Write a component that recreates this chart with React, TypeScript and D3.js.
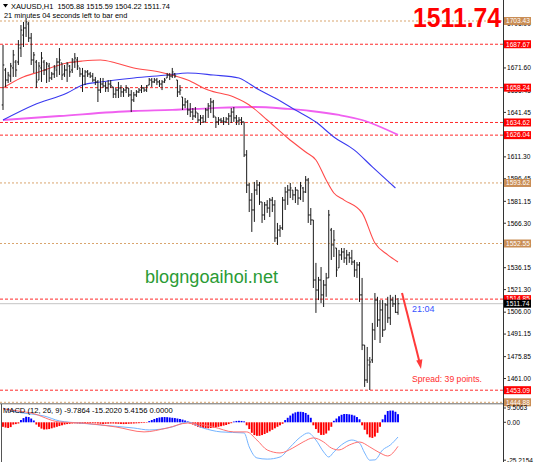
import React from 'react';
import * as d3 from 'd3';

// ---- OHLC bars (XAUUSD H1) ----
const highs = [
  1687.2,1671.6,1668.9,1675.0,1683.8,1677.0,1690.5,1700.7,1702.8,1705.5,
  1702.8,1695.3,1682.4,1677.0,1675.6,1682.4,1677.0,1675.6,1675.0,1668.9,
  1673.6,1678.3,1685.1,1675.0,1673.6,1675.6,1673.6,1678.3,1681.7,1679.0,
  1671.6,1671.6,1670.2,1670.2,1668.9,1668.2,1665.5,1663.4,1664.8,1664.8,
  1662.1,1663.4,1663.4,1658.7,1658.0,1662.1,1660.0,1658.0,1660.0,1658.0,
  1656.6,1655.3,1656.6,1658.0,1660.0,1658.7,1660.0,1664.8,1664.8,1664.8,
  1664.8,1663.4,1663.4,1664.8,1668.2,1668.2,1671.6,1668.2,1663.4,1660.0,
  1651.9,1651.2,1649.9,1647.8,1644.4,1645.1,1641.0,1639.7,1639.7,1644.4,
  1647.8,1651.2,1649.9,1638.3,1638.3,1637.7,1638.3,1638.3,1641.0,1644.4,
  1645.1,1639.7,1638.3,1638.3,1635.0,1615.9,1593.6,1586.8,1594.3,1595.6,
  1594.3,1580.7,1580.7,1582.0,1583.4,1584.1,1582.0,1566.5,1565.1,1584.1,
  1590.9,1592.2,1593.6,1588.8,1590.9,1588.8,1594.3,1590.9,1598.3,1597.0,
  1576.6,1568.5,1539.4,1529.9,1536.6,1527.8,1532.6,1575.3,1563.1,1561.7,
  1549.5,1548.2,1549.5,1549.5,1548.2,1546.8,1548.2,1541.4,1540.0,1540.0,
  1529.2,1483.7,1482.4,1475.6,1498.7,1519.0,1516.4,1514.2,1514.2,1512.2,
  1516.4,1517.7,1516.4,1517.7,1515.59,
];
const lows = [
  1643.1,1658.7,1661.4,1662.1,1665.5,1665.5,1673.6,1679.0,1685.8,1692.6,
  1689.2,1673.6,1668.2,1658.0,1663.4,1662.1,1666.8,1661.4,1662.1,1663.4,
  1664.8,1665.5,1666.8,1663.4,1665.5,1662.1,1665.5,1668.2,1671.6,1670.2,
  1665.5,1655.3,1660.0,1665.5,1664.8,1662.1,1660.0,1648.5,1654.6,1658.0,
  1655.3,1655.3,1658.0,1651.2,1651.2,1651.2,1651.9,1651.9,1654.6,1651.9,
  1641.7,1648.5,1651.9,1654.6,1654.6,1655.3,1655.3,1660.0,1658.7,1661.4,
  1660.0,1658.7,1656.6,1661.4,1664.8,1663.4,1664.8,1664.8,1651.9,1653.3,
  1643.1,1644.4,1639.7,1638.3,1636.3,1637.7,1634.3,1632.9,1634.3,1635.0,
  1637.7,1641.0,1637.7,1630.9,1632.9,1634.3,1632.9,1634.3,1632.9,1634.3,
  1635.0,1632.9,1632.9,1632.9,1611.2,1586.8,1573.9,1560.4,1567.2,1585.5,
  1578.7,1566.5,1568.5,1573.3,1570.5,1573.9,1553.6,1551.6,1557.0,1561.7,
  1575.3,1578.7,1583.4,1582.0,1580.0,1578.7,1582.0,1580.7,1586.8,1566.5,
  1565.1,1522.4,1505.5,1514.2,1512.2,1509.5,1516.4,1529.2,1541.4,1543.4,
  1529.9,1536.0,1541.4,1539.4,1538.0,1539.4,1538.0,1529.9,1529.2,1512.9,
  1480.3,1455.3,1458.0,1453.2,1471.6,1487.1,1496.0,1485.1,1489.2,1494.0,
  1498.7,1497.3,1509.5,1505.5,1504.22,
];
const opens = [
  1646.5,1670.2,1663.4,1666.1,1671.6,1675.6,1675.6,1685.1,1693.9,1698.7,
  1701.4,1691.9,1677.0,1675.6,1663.4,1671.6,1675.6,1670.2,1672.9,1664.8,
  1667.5,1670.2,1675.6,1675.0,1667.5,1670.2,1672.9,1670.2,1675.6,1677.0,
  1671.6,1667.5,1666.1,1668.9,1667.5,1666.1,1663.4,1662.1,1656.6,1660.7,
  1659.4,1658.0,1660.7,1658.7,1653.9,1656.6,1658.0,1655.3,1656.6,1658.0,
  1653.3,1649.9,1653.3,1655.3,1656.6,1658.0,1656.6,1660.0,1663.4,1662.1,
  1663.4,1662.1,1660.7,1662.1,1664.8,1666.8,1666.1,1667.5,1663.4,1655.3,
  1651.9,1646.5,1648.5,1643.1,1641.7,1639.0,1641.0,1636.3,1637.7,1635.0,
  1643.1,1645.8,1648.5,1638.3,1635.0,1636.3,1635.6,1635.0,1637.0,1639.0,
  1641.7,1637.7,1635.6,1636.3,1635.0,1612.6,1592.2,1582.0,1575.3,1588.8,
  1592.2,1580.7,1571.9,1578.7,1576.6,1582.0,1578.7,1556.3,1561.7,1563.1,
  1582.0,1587.5,1588.8,1588.8,1585.5,1588.8,1583.4,1590.2,1587.5,1595.6,
  1571.9,1568.5,1527.8,1521.0,1527.8,1517.7,1524.4,1529.2,1561.7,1551.6,
  1549.5,1536.0,1544.8,1546.8,1542.7,1544.8,1542.7,1540.0,1534.6,1538.0,
  1517.7,1483.7,1460.0,1470.2,1473.6,1493.9,1514.2,1500.7,1507.5,1493.9,
  1510.9,1502.1,1514.2,1511.6,1505.88,
];
const closes = [
  1673.6,1663.4,1666.8,1672.9,1680.4,1670.2,1687.2,1697.3,1698.7,1702.8,
  1691.9,1677.0,1680.4,1662.1,1672.9,1678.3,1670.2,1674.3,1664.8,1667.5,
  1671.6,1675.6,1677.0,1666.8,1670.2,1674.3,1668.9,1677.0,1678.3,1672.9,
  1667.5,1666.1,1668.9,1667.5,1666.1,1663.4,1662.1,1656.6,1660.7,1659.4,
  1658.0,1660.7,1659.4,1653.9,1656.6,1658.0,1655.3,1656.6,1658.0,1653.3,
  1649.9,1653.3,1655.3,1656.6,1658.0,1656.6,1659.4,1663.4,1662.1,1663.4,
  1662.1,1660.7,1662.1,1663.4,1666.8,1666.1,1668.9,1666.1,1655.3,1656.6,
  1646.5,1648.5,1643.1,1641.7,1639.0,1641.7,1636.3,1637.7,1635.0,1643.1,
  1645.8,1648.5,1639.0,1635.0,1636.3,1635.6,1635.0,1637.0,1639.0,1641.7,
  1637.7,1635.6,1636.3,1635.0,1612.6,1592.2,1582.0,1575.3,1588.8,1592.2,
  1580.7,1571.9,1578.7,1576.6,1582.0,1578.7,1556.3,1561.7,1563.1,1582.0,
  1587.5,1588.8,1590.2,1585.5,1588.8,1583.4,1591.6,1587.5,1595.6,1571.9,
  1568.5,1527.8,1521.0,1527.8,1517.7,1524.4,1529.2,1571.9,1551.6,1554.9,
  1534.6,1544.8,1546.8,1542.7,1544.8,1542.7,1540.0,1534.6,1538.0,1517.7,
  1483.7,1460.0,1473.5,1472.2,1494.0,1514.2,1500.7,1507.5,1493.9,1510.9,
  1502.1,1514.2,1511.6,1505.9,1511.74,
];

// ---- Moving averages (bar index, price) ----
const redMaIdx = [0,7,14,25,31,38,44,51,61,72,80,90,96,98,103,111,118,122,126,129,133,140,145,150,154];
const redMaVal = [1658.0,1664.8,1668.9,1675.0,1676.3,1677.0,1675.0,1671.6,1668.9,1663.4,1656.6,1651.9,1646.5,1643.8,1636.3,1624.1,1614.6,1609.2,1595.6,1586.8,1582.0,1573.3,1552.9,1544.8,1540.0];
const blueMaIdx = [0,12,25,31,38,51,64,72,82,92,95,98,106,114,122,129,137,144,153];
const blueMaVal = [1636.3,1646.5,1654.6,1660.0,1662.1,1664.8,1666.8,1668.2,1666.8,1664.8,1662.1,1658.7,1651.2,1643.1,1634.9,1624.8,1615.9,1604.5,1590.2];
const pinkMaIdx = [0,22,51,66,82,98,111,120,131,140,154];
const pinkMaVal = [1636.3,1639.0,1642.4,1643.1,1644.4,1645.1,1643.8,1642.4,1639.7,1636.3,1626.2];

// ---- Horizontal levels ----
const levelPrices = [1703.43,1687.67,1658.24,1634.62,1626.04,1593.62,1552.55,1514.85,1453.09,1444.88];
const levelKinds = ['tan','red','red','red','red','tan','tan','red','red','tan'];
const priceTicks = [1701.90,1686.75,1671.60,1656.45,1641.45,1611.30,1596.45,1581.15,1566.30,1551.45,1536.15,1521.30,1506.00,1491.15,1475.85,1461.00];
const bidPrice = 1511.74;

// ---- MACD (12,26,9) ----
const macdHist = [
  -3.0,-3.5,-3.8,-3.2,
  -1.5,-1.2,-0.8,
  1.5,2.8,3.7,3.5,2.5,1.2,
  -1.5,-3.0,-4.2,-4.8,-4.7,-4.5,-4.0,-3.5,-3.0,
  -2.5,-2.0,-1.5,-1.2,-1.0,
  -0.8,-0.7,-0.8,-0.9,-1.0,-0.9,-0.8,-0.7,-0.6,-0.7,-0.8,-1.0,-1.1,-1.0,-0.9,-0.8,-0.8,-0.9,-1.0,-1.1,-1.2,-1.1,-1.0,-0.9,-0.8,-0.7,-0.6,-0.5,-0.4,-0.3,
  0.8,1.5,2.2,2.8,3.2,3.4,3.5,3.4,3.2,3.0,2.8,2.5,2.2,1.8,1.2,0.6,
  -0.8,-1.5,-2.2,-3.0,-3.5,-3.8,-4.0,-4.0,-3.8,-3.5,-3.2,-3.0,-2.6,-2.2,-1.8,-1.2,-0.6,
  0.5,0.9,1.0,0.9,0.6,
  -2.0,-4.5,-7.0,-8.5,-9.0,-9.0,-8.5,-7.8,-7.0,-6.0,-5.0,-4.0,-3.0,-2.0,-1.0,
  1.5,3.0,4.5,5.8,6.6,7.0,7.0,6.8,6.2,5.0,3.0,
  -2.0,-4.5,-7.0,-8.4,-8.4,-7.5,-5.5,-3.0,
  1.0,2.5,4.0,5.0,5.5,5.5,5.3,5.0,4.5,3.5,2.0,
  -2.0,-5.0,-8.0,-10.0,-10.4,-9.5,-7.0,-3.0,
  2.0,5.0,7.5,7.8,7.8,7.0,5.4,
];
const macdMainIdx = [0,5,11,16,22,30,38,51,57,66,72,78,85,94,96,99,103,108,112,116,119,122,125,127,129,133,136,139,141,143,145,148,151,154];
const macdMainVal = [9.5,6.9,5.5,4.2,0.9,-0.5,-1.8,-3.8,-5.1,-3.1,0.2,-3.8,-6.4,-7.1,-16.4,-23.7,-24.5,-23.1,-16.4,-9.8,-7.1,-11.8,-19.7,-23.1,-19.7,-13.8,-11.8,-13.8,-20.4,-25.2,-25.0,-18.4,-15.1,-9.79];
const macdSigIdx = [0,3,11,22,31,44,55,64,72,82,90,95,99,103,108,113,117,121,125,128,131,135,139,143,147,150,154];
const macdSigVal = [9.0,8.2,6.2,0.2,-0.5,-3.1,-6.4,-3.8,-0.5,-3.1,-6.4,-6.4,-11.8,-18.4,-20.4,-17.1,-13.1,-10.4,-13.1,-17.1,-18.4,-15.1,-13.1,-16.4,-20.4,-22.4,-16.0];
const macdTicks = [9.5063, 0, -25.2154];
const macdTickLabels = ['9.5063', '0.00', '-25.2154'];
const macdLegend = 'MACD (12, 26, 9) -9.7864 -15.2020 5.4156 0.0000';

const W = 534, H = 462;
const AXIS_X = 503;
const FONT = "'Liberation Sans', Arial, sans-serif";

export default function App() {
  const n = highs.length;
  const x = d3.scaleLinear().domain([0, n - 1]).range([3, 398]);
  const y = d3.scaleLinear().domain([1444.88, 1703.43]).range([402.3, 21]);
  const my = d3.scaleLinear().domain([-25.2154, 9.5063]).range([460.2, 408]);

  const maLine = (idx: number[]) =>
    d3.line<number>().x((_, i) => x(idx[i])).y((d) => y(d)).curve(d3.curveMonotoneX);
  const macdLine = (idx: number[]) =>
    d3.line<number>().x((_, i) => x(idx[i])).y((d) => my(d)).curve(d3.curveMonotoneX);

  const red = '#ff2a2a';
  const tan = '#d9a56e';

  return (
    <svg width={W} height={H} style={{ position: 'absolute', left: 0, top: 0, display: 'block', background: '#fff' }}
      fontFamily={FONT}>
      <defs>
        <clipPath id="mainClip"><rect x={0} y={0} width={AXIS_X} height={403} /></clipPath>
        <clipPath id="macdClip"><rect x={0} y={405} width={AXIS_X} height={57} /></clipPath>
      </defs>
      <rect x={0} y={0} width={W} height={H} fill="#fff" />

      {/* header */}
      <polygon points="3,4 8,4 5.5,7.5" fill="#000" />
      <text x={11} y={8.8} fontSize={7.4} fill="#000" style={{ whiteSpace: 'pre' }}>XAUUSD,H1  1505.88 1515.59 1504.22 1511.74</text>
      <text x={4} y={17.8} fontSize={7.4} fill="#000">21 minutes 04 seconds left to bar end</text>

      <g clipPath="url(#mainClip)">
        {/* horizontal levels */}
        {levelPrices.map((p, i) => (
          <line key={'lv' + i} x1={0} x2={AXIS_X} y1={y(p)} y2={y(p)}
            stroke={levelKinds[i] === 'red' ? red : tan}
            strokeWidth={1} strokeDasharray={levelKinds[i] === 'red' ? '3,2' : '2,2'} />
        ))}
        {/* bid line */}
        <line x1={0} x2={AXIS_X} y1={y(bidPrice)} y2={y(bidPrice)} stroke="#c4c4c4" strokeWidth={1} />

        {/* moving averages */}
        <path d={maLine(pinkMaIdx)(pinkMaVal) || ''} fill="none" stroke="#f060f0" strokeWidth={1.8} />
        <path d={maLine(blueMaIdx)(blueMaVal) || ''} fill="none" stroke="#3a3af0" strokeWidth={1.1} />
        <path d={maLine(redMaIdx)(redMaVal) || ''} fill="none" stroke="#ff4a4a" strokeWidth={1.1} />

        {/* bars */}
        {highs.map((h, i) => {
          const cx = x(i);
          return (
            <g key={'b' + i} stroke="#1a1a1a" strokeWidth={1}>
              <line x1={cx} x2={cx} y1={y(h)} y2={y(lows[i])} />
              <line x1={cx - 1.3} x2={cx} y1={y(opens[i])} y2={y(opens[i])} />
              <line x1={cx} x2={cx + 1.3} y1={y(closes[i])} y2={y(closes[i])} />
            </g>
          );
        })}

        {/* watermark */}
        <text x={145} y={283} fontSize={18} fill="#2b9b35" textLength={133} lengthAdjust="spacingAndGlyphs">blogngoaihoi.net</text>

        {/* annotations */}
        <text x={412} y={312} fontSize={9} fill="#3552ff">21:04</text>
        <line x1={402} y1={293} x2={419.5} y2={362} stroke="#ff3a3a" strokeWidth={2} />
        <polygon points="421,369 416.2,360.6 422.4,359.2" fill="#ff3a3a" />
        <text x={412} y={381.5} fontSize={9} fill="#ff2e2e" textLength={70} lengthAdjust="spacingAndGlyphs">Spread: 39 points.</text>
      </g>

      {/* big price */}
      <text x={413} y={27} fontSize={27} fontWeight="bold" fill="#ff0000" textLength={88} lengthAdjust="spacingAndGlyphs">1511.74</text>

      {/* panel separator */}
      <line x1={0} x2={AXIS_X} y1={403.8} y2={403.8} stroke="#6b6b6b" strokeWidth={1} />

      {/* MACD panel */}
      <g clipPath="url(#macdClip)">
        {macdHist.map((v, i) => (
          <rect key={'h' + i} x={x(i) - 0.95} width={1.9}
            y={Math.min(my(0), my(v))} height={Math.abs(my(v) - my(0))}
            fill={v >= 0 ? '#0000ff' : '#ff0000'} />
        ))}
        <path d={macdLine(macdMainIdx)(macdMainVal) || ''} fill="none" stroke="#74b4ff" strokeWidth={1} />
        <path d={macdLine(macdSigIdx)(macdSigVal) || ''} fill="none" stroke="#ff7070" strokeWidth={1} />
      </g>
      <text x={3} y={413.2} fontSize={7.6} fill="#000">{macdLegend}</text>
      <line x1={1.5} x2={1.5} y1={404} y2={H} stroke="#555" strokeWidth={1} />

      {/* right axis */}
      <line x1={AXIS_X + 0.5} x2={AXIS_X + 0.5} y1={0} y2={H} stroke="#333" strokeWidth={1} />
      {priceTicks.map((t, i) => (
        <g key={'t' + i}>
          <line x1={AXIS_X} x2={AXIS_X + 3} y1={y(t)} y2={y(t)} stroke="#333" />
          <text x={507} y={y(t)} dy="0.35em" fontSize={6.6} fill="#000">{t.toFixed(2)}</text>
        </g>
      ))}
      {levelPrices.map((p, i) => (
        <g key={'lb' + i}>
          <rect x={504} y={y(p) - 4} width={27} height={8} fill={levelKinds[i] === 'red' ? '#ff0000' : '#c98d55'} />
          <text x={506} y={y(p)} dy="0.35em" fontSize={6.6} fill="#fff">{p.toFixed(2)}</text>
        </g>
      ))}
      <rect x={504} y={y(bidPrice) - 4} width={27} height={8} fill="#000" />
      <text x={506} y={y(bidPrice)} dy="0.35em" fontSize={6.6} fill="#fff">{bidPrice.toFixed(2)}</text>

      {macdTicks.map((t, i) => (
        <g key={'m' + i}>
          <line x1={AXIS_X} x2={AXIS_X + 3} y1={my(t)} y2={my(t)} stroke="#333" />
          <text x={507} y={my(t)} dy="0.35em" fontSize={6.6} fill="#000">{macdTickLabels[i]}</text>
        </g>
      ))}
    </svg>
  );
}
